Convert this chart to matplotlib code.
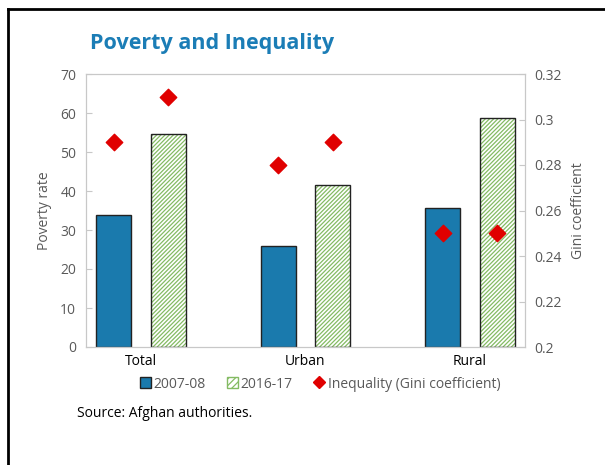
import matplotlib.pyplot as plt
import numpy as np
from matplotlib.lines import Line2D
from matplotlib.patches import Patch

plt.rcParams['font.family'] = ['Open Sans', 'DejaVu Sans']
plt.rcParams['hatch.linewidth'] = 0.9

categories = ['Total', 'Urban', 'Rural']
poverty_2007 = [33.8, 25.8, 35.7]
poverty_2016 = [54.5, 41.6, 58.6]
gini_2007 = [0.29, 0.28, 0.25]
gini_2016 = [0.31, 0.29, 0.25]

blue = '#1a7aad'
green = '#84bb63'
grey = '#595959'
spine = '#c8c8c8'
red = '#e00000'

fig = plt.figure(figsize=(6.05, 4.65), dpi=100)
ax = fig.add_axes([86 / 605, 1 - 347 / 465, 439 / 605, 273 / 465])
ax2 = ax.twinx()

x = np.arange(len(categories))
off = 0.166
w = 0.213
ax.bar(x - off, poverty_2007, w, color=blue, edgecolor='#222222', linewidth=1, zorder=2)
# hatched bars: green hatch first, then the dark outline on top
ax.bar(x + off, poverty_2016, w, color='white', edgecolor=green, linewidth=0,
       hatch='////////', zorder=2)
ax.bar(x + off, poverty_2016, w, fill=False, edgecolor='#222222', linewidth=1, zorder=2)
ax2.scatter(x - off, gini_2007, marker='D', s=70, color=red, zorder=3)
ax2.scatter(x + off, gini_2016, marker='D', s=70, color=red, zorder=3)

ax.set_xlim(-0.334, 2.334)
ax.set_ylim(0, 70)
ax.set_yticks(range(0, 71, 10))
ax2.set_ylim(0.2, 0.32)
ax2.set_yticks([0.2, 0.22, 0.24, 0.26, 0.28, 0.3, 0.32])
ax2.set_yticklabels(['0.2', '0.22', '0.24', '0.26', '0.28', '0.3', '0.32'])
ax.set_xticks(x)
ax.set_xticklabels(categories, fontsize=10, color='black')

for a in (ax, ax2):
    for s in a.spines.values():
        s.set_color(spine)
    a.tick_params(axis='y', direction='in', length=4, color=spine, labelcolor=grey,
                  labelsize=10, pad=7)
ax.tick_params(axis='x', length=0, pad=5)

ax.set_ylabel('Poverty rate', color=grey, fontsize=10, labelpad=6)
ax2.set_ylabel('Gini coefficient', color=grey, fontsize=10, labelpad=6)

fig.text(90 / 605, 1 - 43 / 465, 'Poverty and Inequality', color='#1b7db6',
         fontsize=15.5, fontweight='bold', va='center')

handles = [Patch(facecolor=blue, edgecolor='#222222'),
           Patch(facecolor='white', edgecolor=green, hatch='/////'),
           Line2D([], [], marker='D', color=red, linestyle='none', markersize=6)]
labels = ['2007-08', '2016-17', 'Inequality (Gini coefficient)']
fig.legend(handles, labels, loc='center', bbox_to_anchor=(320 / 605, 1 - 384 / 465),
           ncol=3, frameon=False, fontsize=10, labelcolor=grey, handlelength=0.8,
           handleheight=0.8, handletextpad=0.2, columnspacing=1.5)

fig.text(77 / 605, 1 - 413 / 465, 'Source: Afghan authorities.', fontsize=10,
         color='black', va='center')

# outer frame lines (left and top)
fig.add_artist(Line2D([8 / 605, 8 / 605], [0, 1 - 9 / 465], color='black', linewidth=2))
fig.add_artist(Line2D([8 / 605, 1], [1 - 9 / 465, 1 - 9 / 465], color='black', linewidth=2))

fig.savefig('out.png', dpi=100)
